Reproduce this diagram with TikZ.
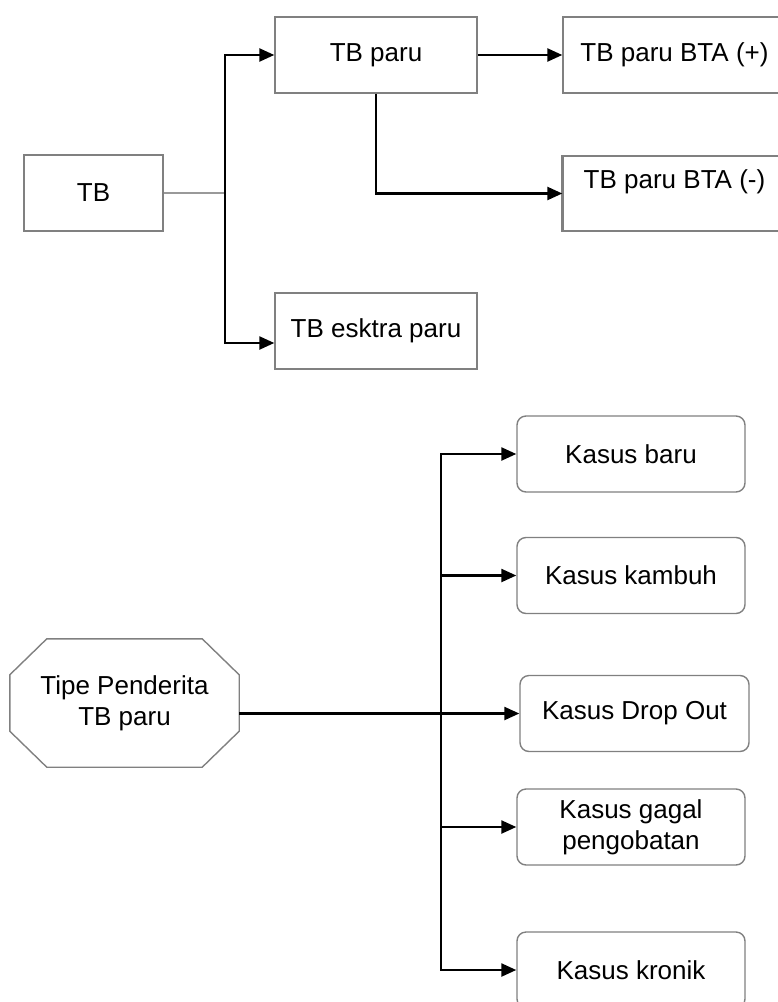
\documentclass[tikz,border=0pt]{standalone}
\usepackage{fontspec}
\setmainfont{Liberation Sans}
\usetikzlibrary{arrows.meta}
\tikzset{
x=1pt, y=-1pt, % one unit per pixel, y runs downwards
box/.style={draw=gray, line width=1.4pt, font=\fontsize{26}{31}\selectfont, minimum height=76pt, inner sep=0pt, align=center}, % plain boxes
roundbox/.style={box, rounded corners=9pt, minimum width=228pt}, % boxes of the lower chart
arr/.style={-{Triangle[length=15pt,width=13pt]}, line width=2.4pt}, % black arrows
link/.style={draw=gray!80, line width=1.4pt}, % thin grey line
}
\begin{document}
\begin{tikzpicture}
		\useasboundingbox (0,0) rectangle (778,1002);
		% upper chart
		\node[box, minimum width=139pt] (tb) at (93.5,193) {TB};
		\node[box, minimum width=202pt] (paru) at (376,55) {TB paru};
		\node[box, minimum width=202pt] (ekstra) at (376,331) {TB esktra paru};
		\node[box, minimum width=223pt] (pos) at (674.5,55) {TB paru BTA (+)};
		\node[box, minimum width=223pt, minimum height=75pt] (neg) at (674.5,193.5) {\raisebox{12pt}[\height][\depth]{TB paru BTA (-)}};
		\draw[gray, line width=3pt] (neg.north west) -- (neg.south west);
		\coordinate (split1) at (225,193);
		\draw[link] (tb.east) -- (split1);
		\draw[arr] (split1) |- (paru.west);
		\draw[arr] (split1) |- ([yshift=-12pt]ekstra.west);
		\draw[arr] (paru.east) -- (pos.west);
		\draw[arr] (paru.south) |- (neg.west);
		% lower chart
		\node[font=\fontsize{26}{31}\selectfont, minimum width=229pt, minimum height=128pt, align=center] (tipe) at (124.5,703) {Tipe Penderita\\TB paru};
		\draw[gray, line width=1.4pt] ([xshift=37pt]tipe.north west) -- ([xshift=-37pt]tipe.north east) -- ([yshift=-36pt]tipe.north east) -- ([yshift=36pt]tipe.south east) -- ([xshift=-37pt]tipe.south east) -- ([xshift=37pt]tipe.south west) -- ([yshift=36pt]tipe.south west) -- ([yshift=-36pt]tipe.north west) -- cycle;
		\node[roundbox] (baru) at (631,454) {Kasus baru};
		\node[roundbox] (kambuh) at (631,575.5) {Kasus kambuh};
		\node[roundbox, minimum width=229pt] (dropout) at (634.5,713.5) {Kasus Drop Out};
		\node[roundbox] (gagal) at (631,827) {Kasus gagal\\pengobatan};
		\node[roundbox] (kronik) at (631,970) {Kasus kronik};
		\coordinate (split2) at (441,713.5);
		\draw[arr] ([yshift=-10.5pt]tipe.east) -- (dropout.west);
		\draw[arr] (split2) |- (baru.west);
		\draw[arr] (split2) |- (kambuh.west);
		\draw[arr] (split2) |- (gagal.west);
		\draw[arr] (split2) |- (kronik.west);
	\end{tikzpicture}
\end{document}
